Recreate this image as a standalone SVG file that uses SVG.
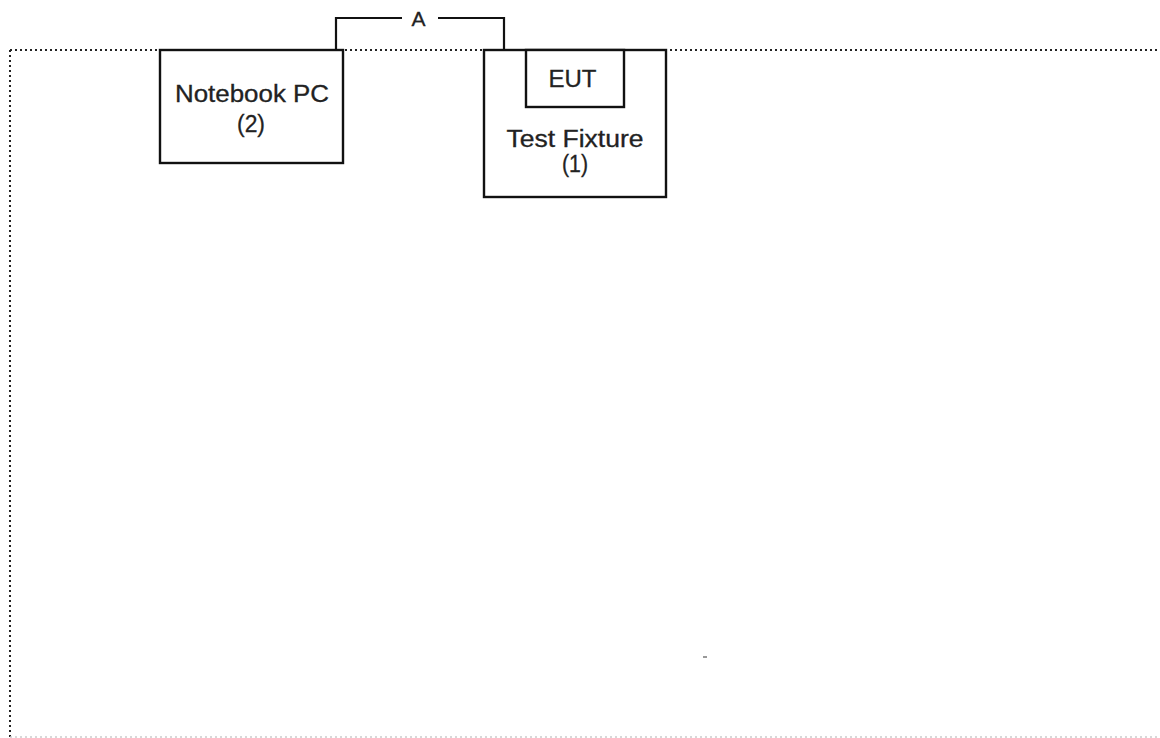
<svg xmlns="http://www.w3.org/2000/svg" width="1160" height="738" viewBox="0 0 1160 738">
<style>
.box{fill:#fff;stroke:#111;stroke-width:2.4}
.lbl{font-family:"Liberation Sans",Arial,sans-serif;font-size:23px;fill:#222;stroke:#222;stroke-width:0.3;text-anchor:middle}
.wire{fill:none;stroke:#111;stroke-width:2.2}
.dot{fill:none;stroke:#222;stroke-width:2;stroke-dasharray:2 3}
</style>
<rect width="1160" height="738" fill="#fff"/>
<g id="frame">
<line class="dot" x1="10" y1="50" x2="1160" y2="50"/>
<line class="dot" x1="10" y1="50" x2="10" y2="737"/>
<line x1="10" y1="737" x2="1160" y2="737" stroke="#ccc" stroke-width="1.5" stroke-dasharray="2 3"/>
</g>
<g id="connectors">
<polyline class="wire" points="336,50 336,18 402,18"/>
<polyline class="wire" points="438,18 504,18 504,50"/>
<text class="lbl" x="418.5" y="25.5" style="font-size:21px">A</text>
</g>
<g id="notebook">
<rect class="box" x="160" y="50" width="183" height="113"/>
<text class="lbl" x="252" y="102" textLength="154" lengthAdjust="spacingAndGlyphs">Notebook PC</text>
<text class="lbl" x="251" y="132" textLength="28" lengthAdjust="spacingAndGlyphs">(2)</text>
</g>
<g id="fixture">
<rect class="box" x="484" y="50" width="182" height="147"/>
<text class="lbl" x="575" y="147" textLength="137" lengthAdjust="spacingAndGlyphs">Test Fixture</text>
<text class="lbl" x="575" y="172" textLength="26" lengthAdjust="spacingAndGlyphs">(1)</text>
</g>
<g id="eut">
<rect class="box" x="526" y="50" width="98" height="57"/>
<text class="lbl" x="572.5" y="87" textLength="48" lengthAdjust="spacingAndGlyphs">EUT</text>
</g>
<rect x="703" y="656" width="4" height="2" fill="#999"/>
</svg>
